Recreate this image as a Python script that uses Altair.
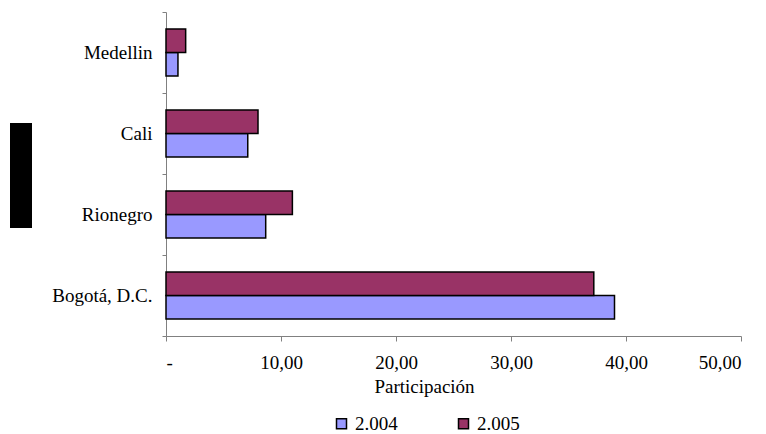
import altair as alt
import pandas as pd

cities = ["Medellin", "Cali", "Rionegro", "Bogotá, D.C."]
years = ["2.004", "2.005"]
v2004 = [1.04, 7.11, 8.67, 39.0]
v2005 = [1.71, 8.0, 10.99, 37.2]
x_ticks = [0, 10, 20, 30, 40, 50]
colors = ["#9999FF", "#993366"]

rows = []
for c, a, b in zip(cities, v2004, v2005):
    rows.append({"Ciudad": c, "Año": years[0], "Participación": a})
    rows.append({"Ciudad": c, "Año": years[1], "Participación": b})
df = pd.DataFrame(rows)

FONT = "Liberation Serif"
AXC = "#808080"

bars = alt.Chart(df).mark_bar(stroke="black", strokeWidth=1.5).encode(
    y=alt.Y(
        "Ciudad:N",
        sort=cities,
        scale=alt.Scale(paddingInner=0, paddingOuter=0),
        axis=alt.Axis(
            title=None,
            tickBand="extent",
            labelFont=FONT,
            labelFontSize=19,
            labelColor="black",
            labelPadding=10,
            tickSize=4,
            domainColor=AXC,
            tickColor=AXC,
        ),
    ),
    yOffset=alt.YOffset(
        "Año:N",
        sort=["2.005", "2.004"],
        scale=alt.Scale(paddingInner=0, paddingOuter=0.72),
    ),
    x=alt.X(
        "Participación:Q",
        scale=alt.Scale(domain=[0, 50], nice=False),
        axis=alt.Axis(
            values=x_ticks,
            title="Participación",
            labelExpr="datum.value == 0 ? '-' : replace(format(datum.value, '.2f'), '.', ',')",
            grid=False,
            labelFont=FONT,
            labelFontSize=19,
            labelColor="black",
            labelPadding=12,
            tickSize=5,
            domainColor=AXC,
            tickColor=AXC,
            titleFont=FONT,
            titleFontSize=19,
            titleFontWeight="normal",
            titleColor="black",
            titlePadding=5,
            titleX=258,
        ),
    ),
    fill=alt.Fill(
        "Año:N",
        scale=alt.Scale(domain=years, range=colors),
        legend=alt.Legend(
            title=None,
            orient="none",
            direction="horizontal",
            legendX=166,
            legendY=402,
            padding=0,
            symbolType="square",
            symbolSize=100,
            symbolStrokeColor="black",
            symbolStrokeWidth=1.5,
            symbolOpacity=1,
            labelFont=FONT,
            labelFontSize=19,
            labelColor="black",
            labelOffset=4,
            columnPadding=56,
        ),
    ),
)

box = alt.Chart(pd.DataFrame({"k": [0]})).mark_rect(color="black").encode(
    x=alt.value(-156), x2=alt.value(-134), y=alt.value(111), y2=alt.value(216)
)

chart = (
    alt.layer(box, bars)
    .properties(
        width=575,
        height=324,
        autosize=alt.AutoSizeParams(type="none"),
        padding={"left": 158, "top": 4, "right": 17, "bottom": 98},
        background="white",
    )
    .configure_view(stroke=None)
)

chart.save("out.html", embed_options={"renderer": "svg", "actions": False})
